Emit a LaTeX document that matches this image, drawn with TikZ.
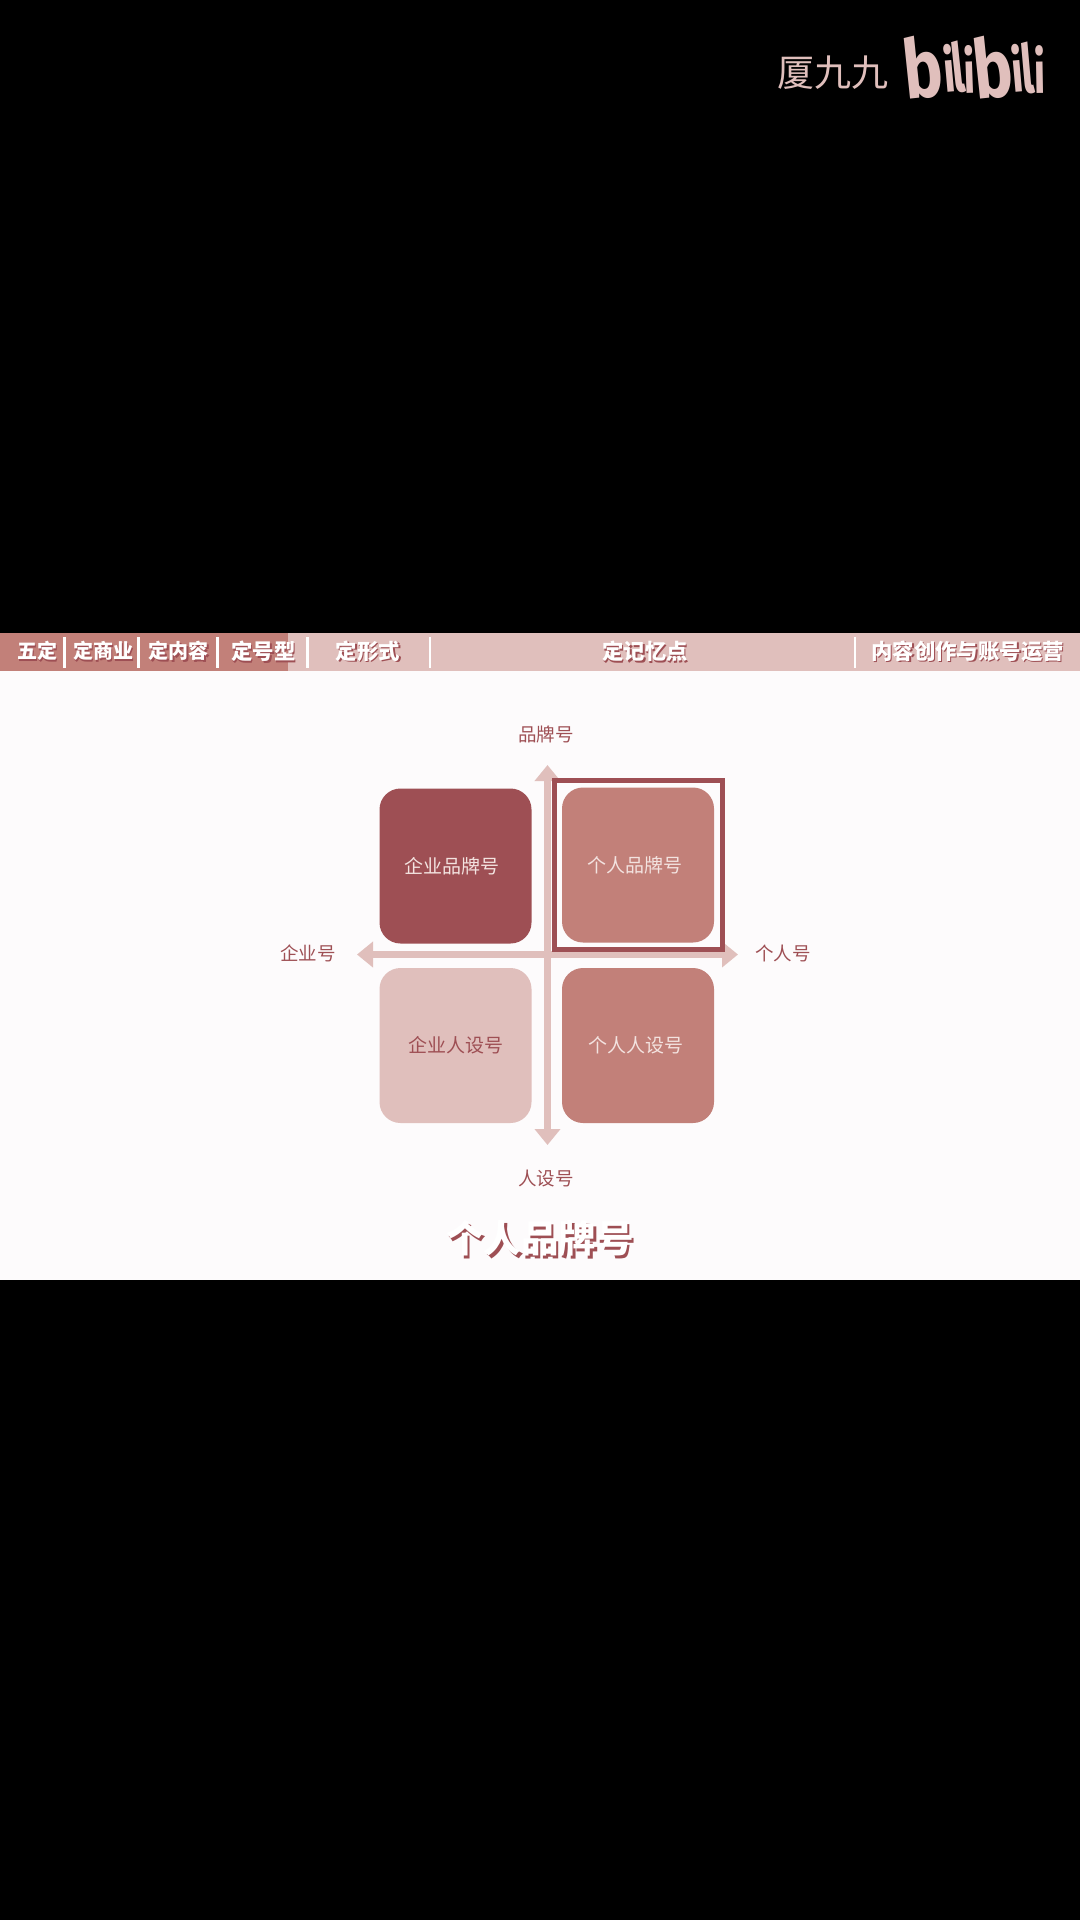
\documentclass[tikz,border=0pt]{standalone}
\usepackage{fontspec}
\setmainfont{Noto Sans CJK SC}
\newfontfamily\logofont{Fira Sans}
\usetikzlibrary{arrows.meta}

\definecolor{darkred}{HTML}{9E4F54}
\definecolor{midred}{HTML}{C28079}
\definecolor{paleRed}{HTML}{E0BFBC}
\definecolor{paper}{HTML}{FDFBFC}
\definecolor{softtext}{HTML}{F3E3E0}

\newcommand{\fsize}[1]{\fontsize{#1}{#1}\selectfont}
\newcommand{\shadowed}[2]{\leavevmode\rlap{\kern#1pt\raisebox{-#1pt}{\textcolor{darkred}{#2}}}\textcolor{white}{#2}}
\newcommand{\boxtext}[1]{\raisebox{1.5pt}{#1}}

\tikzset{
  menutext/.style={inner sep=0pt, font=\fsize{21.4}\bfseries},
  menutight/.style={inner sep=0pt, font=\fsize{20}\bfseries},
  menubar/.style={draw=white, line width=2.6pt},
  axislabel/.style={inner sep=0pt, text=darkred, font=\fsize{18.5}},
  quadbox/.style={rounded corners=21pt, minimum width=152pt, minimum height=155pt, inner sep=0pt, font=\fsize{19}},
  axisline/.style={draw=paleRed, line width=7pt, {Triangle[width=25pt,length=16pt]}-{Triangle[width=25pt,length=16pt]}},
  logoletter/.style={inner sep=0pt, anchor=base, text=paleRed, font=\logofont\bfseries\fsize{82}},
}

\begin{document}
\begin{tikzpicture}[x=1pt,y=-1pt]
  \useasboundingbox (0,0) rectangle (1080,1920);
  \fill[black] (0,0) rectangle (1080,1920);
  \fill[paper] (0,671) rectangle (1080,1280);

  % menu strip
  \fill[paleRed] (0,633) rectangle (1080,671);
  \fill[midred] (0,633) rectangle (288,671);

  \node[menutight] (five) at (37,652) {\shadowed{1.5}{五定}};
  \node[menutight] (trade) at (103,652) {\shadowed{1.5}{定商业}};
  \node[menutight] (content) at (178.5,652) {\shadowed{1.5}{定内容}};
  \node[menutext] (kind) at (263.5,652) {\shadowed{1.5}{定号型}};
  \node[menutext] (form) at (368,652) {\shadowed{1.5}{定形式}};
  \node[menutext] (memory) at (645,652) {\shadowed{1.5}{定记忆点}};
  \node[menutext] (ops) at (967.5,652) {\shadowed{1.5}{内容创作与账号运营}};

  \foreach \x in {64.7,138.4,217.3,307.5,429.8,855}
    \draw[menubar] (\x,637) -- (\x,668);

  % axes
  \coordinate (north) at (547.5,765);
  \coordinate (south) at (547.5,1145);
  \coordinate (west) at (357,954.5);
  \coordinate (east) at (738,954.5);
  \draw[axisline] (south) -- (north);
  \draw[axisline] (west) -- (east);

  \node[axislabel] (brand) at (546,734) {品牌号};
  \node[axislabel] (persona) at (546,1179) {人设号};
  \node[axislabel] (firm) at (308,953) {企业号};
  \node[axislabel] (solo) at (783,953) {个人号};

  % quadrants
  \node[quadbox, fill=darkred, text=softtext] (firmbrand) at (455.5,866) {\boxtext{企业品牌号}\hspace*{8pt}};
  \node[quadbox, fill=midred, text=softtext] (solobrand) at (638,865) {\boxtext{个人品牌号}\hspace*{7pt}};
  \node[quadbox, fill=paleRed, text=darkred] (firmpersona) at (455.5,1045.5) {\boxtext{企业人设号}};
  \node[quadbox, fill=midred, text=softtext] (solopersona) at (638,1045.5) {\boxtext{个人人设号}\hspace*{4pt}};

  \draw[darkred, line width=5pt] (554,780) rectangle (722.5,949.5);

  \node[inner sep=0pt, font=\fsize{37.5}\bfseries] (caption) at (540,1240) {\shadowed{2.5}{个人品牌号}};

  % logo
  \node[inner sep=0pt, text=paleRed, font=\fsize{37}] (owner) at (832.5,73) {厦九九};
  \foreach \x/\y/\c/\r/\sx/\sy in {926/97/b/6/0.8/1, 951/92/i/5/0.5/0.72, 961/92/l/6/0.5/0.82, 970/93/i/2/0.5/0.72,
                                   996/97/b/6/0.8/1, 1019/92/i/5/0.5/0.72, 1030/93/l/5/0.5/0.82, 1040/93/i/1/0.5/0.72}
    \node[logoletter, rotate=\r, xscale=\sx, yscale=\sy] (logo\x) at (\x,\y) {\c};
\end{tikzpicture}
\end{document}
